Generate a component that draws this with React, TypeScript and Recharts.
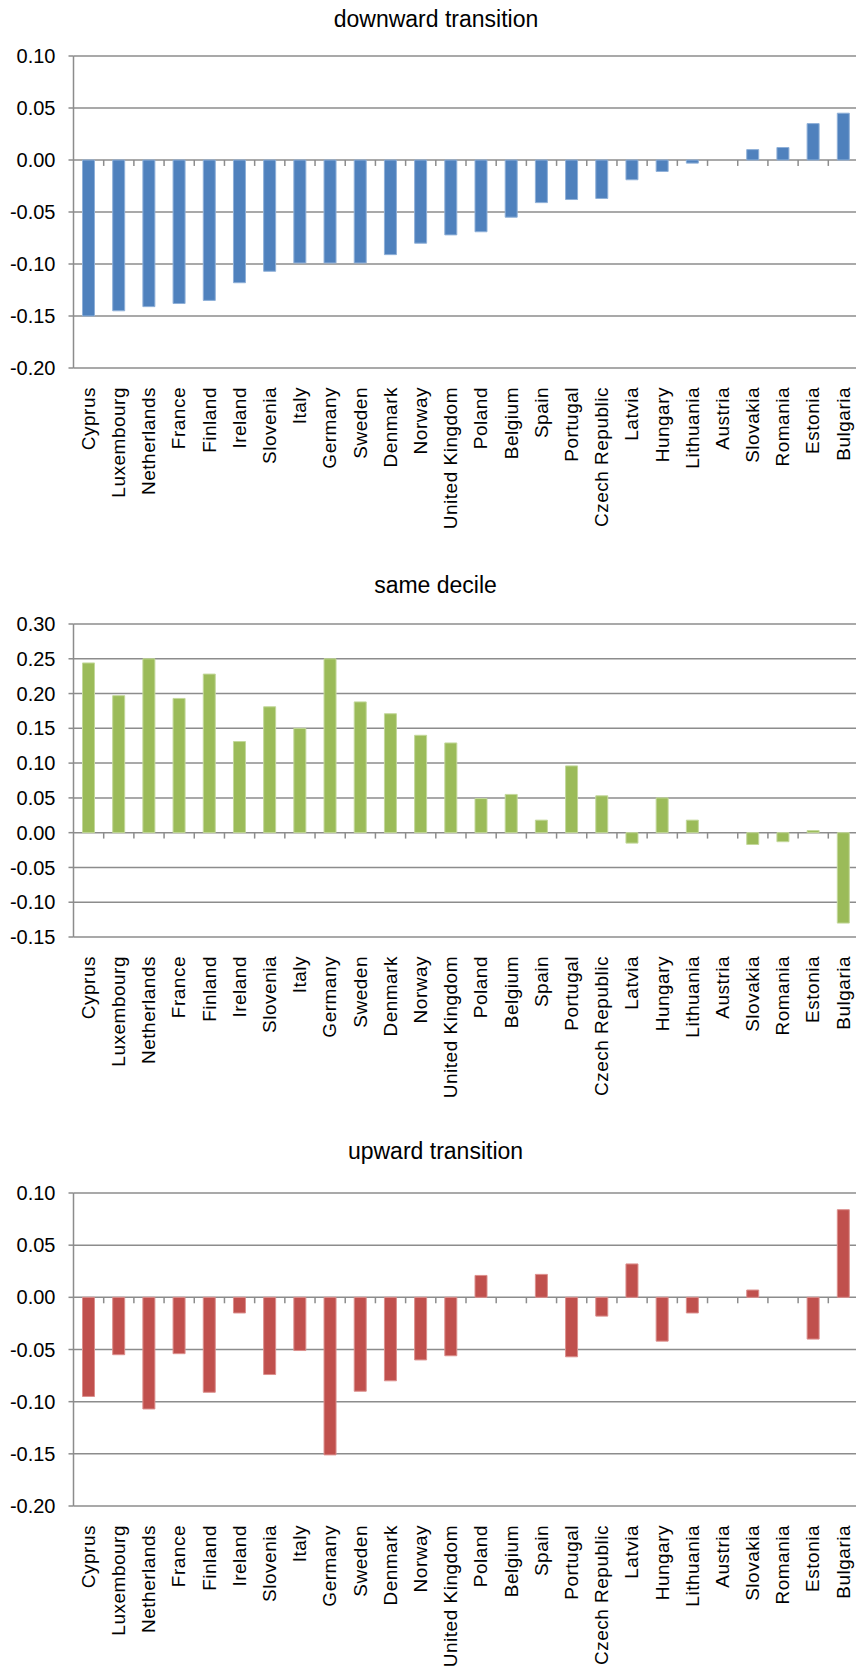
import React from "react";
import { BarChart, Bar, XAxis, YAxis, CartesianGrid, ReferenceLine } from "recharts";

// countries, ordered as in the source chart
const countries = [
  "Cyprus", "Luxembourg", "Netherlands", "France", "Finland", "Ireland",
  "Slovenia", "Italy", "Germany", "Sweden", "Denmark", "Norway",
  "United Kingdom", "Poland", "Belgium", "Spain", "Portugal", "Czech Republic",
  "Latvia", "Hungary", "Lithuania", "Austria", "Slovakia", "Romania",
  "Estonia", "Bulgaria",
];

const downward = [
  -0.150, -0.145, -0.141, -0.138, -0.135, -0.118, -0.107, -0.099, -0.099,
  -0.099, -0.091, -0.080, -0.072, -0.069, -0.055, -0.041, -0.038, -0.037,
  -0.019, -0.011, -0.003, 0, 0.010, 0.012, 0.035, 0.045,
];

const sameDecile = [
  0.244, 0.197, 0.250, 0.193, 0.228, 0.131, 0.181, 0.150, 0.250, 0.188,
  0.171, 0.140, 0.129, 0.049, 0.055, 0.018, 0.096, 0.053, -0.015, 0.050,
  0.018, 0, -0.017, -0.013, 0.003, -0.130,
];

const upward = [
  -0.095, -0.055, -0.107, -0.054, -0.091, -0.015, -0.074, -0.051, -0.151,
  -0.090, -0.080, -0.060, -0.056, 0.021, 0, 0.022, -0.057, -0.018, 0.032,
  -0.042, -0.015, 0, 0.007, 0, -0.040, 0.084,
];

const narrowTicks = [-0.2, -0.15, -0.1, -0.05, 0, 0.05, 0.1];
const wideTicks = [-0.15, -0.1, -0.05, 0, 0.05, 0.1, 0.15, 0.2, 0.25, 0.3];

const FONT = '"Liberation Sans", Arial, sans-serif';
const GRID = "#8c8c8c";

// bar centres sit in the middle of each category slot, tick marks between slots
const centres = countries.map((_, i) => i + 0.5);
const dividers = countries.slice(1).map((_, i) => i + 1);

function CountryTick({ x, y, payload }: any) {
  const name = countries[Math.floor(payload.value)];
  return (
    <text
      transform={`translate(${x},${y + 19}) rotate(-90)`}
      textAnchor="end"
      dy="0.33em"
      fontSize={19}
      letterSpacing={0.5}
      fontFamily={FONT}
      fill="#000"
    >
      {name}
    </text>
  );
}

function PanelChart({
  values,
  color,
  edge,
  ticks,
  tickDepth,
  top,
  height,
  plotTop,
  plotBottom,
}: {
  values: number[];
  color: string;
  edge: string;
  ticks: number[];
  tickDepth: number;
  top: number;
  height: number;
  plotTop: number;
  plotBottom: number;
}) {
  const rows = countries.map((name, i) => ({ pos: centres[i], name, value: values[i] }));

  return (
    <div style={{ position: "absolute", left: 0, top }}>
      <BarChart
        width={858.5}
        height={height}
        data={rows}
        margin={{ top: plotTop, right: 0, bottom: 0, left: 0 }}
      >
        <CartesianGrid vertical={false} stroke={GRID} strokeWidth={1.5} />
        <XAxis
          type="number"
          dataKey="pos"
          domain={[0, countries.length]}
          ticks={centres}
          interval={0}
          height={height - plotBottom}
          axisLine={false}
          tickLine={false}
          tickSize={0}
          tickMargin={0}
          tick={<CountryTick />}
        />
        <YAxis
          type="number"
          domain={[ticks[0], ticks[ticks.length - 1]]}
          ticks={ticks}
          interval={0}
          width={73.5}
          axisLine={{ stroke: GRID, strokeWidth: 1.5 }}
          tickLine={{ stroke: GRID, strokeWidth: 1.5 }}
          tickSize={5}
          tickMargin={13}
          tickFormatter={(v: number) => v.toFixed(2)}
          tick={{ fontSize: 20, fill: "#000", fontFamily: FONT }}
        />
        {dividers.map((d) => (
          <ReferenceLine
            key={d}
            segment={[{ x: d, y: 0 }, { x: d, y: -tickDepth }]}
            stroke={GRID}
            strokeWidth={1.5}
          />
        ))}
        <Bar
          dataKey="value"
          fill={color}
          stroke={edge}
          strokeWidth={1}
          barSize={12}
          isAnimationActive={false}
        />
      </BarChart>
    </div>
  );
}

export default function App() {
  return (
    <div
      style={{
        position: "absolute",
        left: 0,
        top: 0,
        width: 856,
        height: 1668,
        overflow: "hidden",
        background: "#fff",
      }}
    >
      <PanelChart
        values={downward}
        color="#4F81BD"
        edge="#8fb0d8"
        ticks={narrowTicks}
        tickDepth={0.0057}
        top={0}
        height={560}
        plotTop={56}
        plotBottom={368}
      />
      <PanelChart
        values={sameDecile}
        color="#9BBB59"
        edge="#c3d89b"
        ticks={wideTicks}
        tickDepth={0.0085}
        top={560}
        height={560}
        plotTop={64}
        plotBottom={377}
      />
      <PanelChart
        values={upward}
        color="#C0504D"
        edge="#dc8f8d"
        ticks={narrowTicks}
        tickDepth={0.0057}
        top={1120}
        height={548}
        plotTop={73}
        plotBottom={386}
      />
      <svg
        width={856}
        height={1668}
        style={{ position: "absolute", left: 0, top: 0, pointerEvents: "none" }}
      >
        <text x={436} y={26.5} textAnchor="middle" fontSize={23} fontFamily={FONT} fill="#000">
          downward transition
        </text>
        <text x={435.5} y={593} textAnchor="middle" fontSize={23} fontFamily={FONT} fill="#000">
          same decile
        </text>
        <text x={435.5} y={1159} textAnchor="middle" fontSize={23} fontFamily={FONT} fill="#000">
          upward transition
        </text>
      </svg>
    </div>
  );
}
